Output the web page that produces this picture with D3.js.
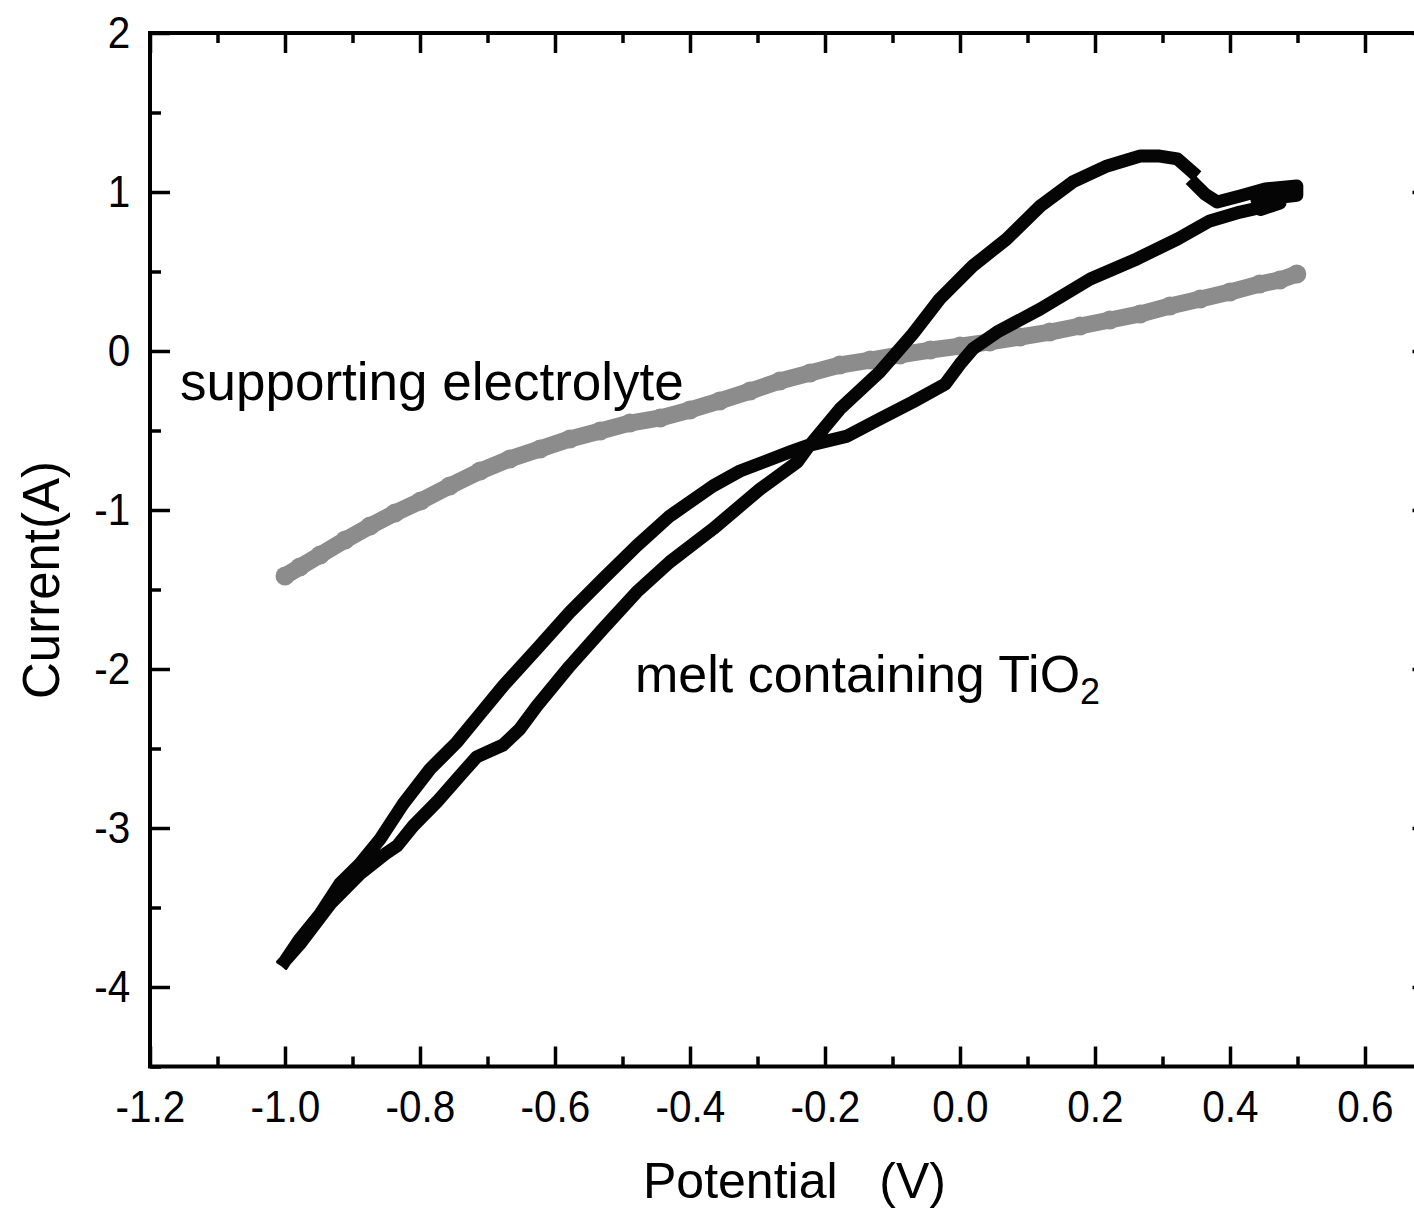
<!DOCTYPE html>
<html>
<head>
<meta charset="utf-8">
<script src="https://cdn.jsdelivr.net/npm/d3@7"></script>
<style>
  html, body { margin: 0; padding: 0; background: #fff; overflow: hidden; }
  svg text { font-family: "Liberation Sans", Arial, sans-serif; fill: #000; }
</style>
</head>
<body>
<svg id="chart" width="1414" height="1210"></svg>
<script>
// supporting electrolyte (grey markers)
let electrolytePotential = [-1.000, -0.978, -0.948, -0.911, -0.874, -0.837, -0.799, -0.756, -0.711, -0.667,
  -0.622, -0.578, -0.533, -0.489, -0.444, -0.400, -0.356, -0.311, -0.267, -0.222,
  -0.178, -0.133, -0.089, -0.044, 0.000, 0.044, 0.089, 0.133, 0.178, 0.222,
  0.267, 0.311, 0.356, 0.400, 0.444, 0.474, 0.499]
let electrolyteCurrent = [-1.415, -1.358, -1.283, -1.189, -1.101, -1.019, -0.943, -0.849, -0.755, -0.679,
  -0.616, -0.553, -0.503, -0.453, -0.421, -0.371, -0.314, -0.252, -0.189, -0.138,
  -0.088, -0.057, -0.025, 0.006, 0.031, 0.057, 0.088, 0.119, 0.157, 0.195,
  0.233, 0.283, 0.327, 0.371, 0.421, 0.447, 0.484]

// melt containing TiO2 (black), null = gap in the trace
let meltPotential = [-1.000, -0.978, -0.933, -0.889, -0.852, -0.834, -0.810, -0.775, -0.736, -0.716,
  -0.677, -0.652, -0.627, -0.578, -0.529, -0.479, -0.430, -0.366, -0.296, -0.241,
  -0.227, -0.178, -0.119, -0.070, -0.030, 0.019, 0.069, 0.119, 0.167, 0.218,
  0.267, 0.296, 0.322, 0.344, null,
  0.348, 0.363, 0.381, 0.415, 0.452, 0.499, 0.499, 0.440, 0.445, 0.474,
  0.415, 0.370, 0.322, 0.262, 0.193, 0.119, 0.055, 0.019, 0.000,
  -0.022, -0.070, -0.119, -0.167, -0.227, -0.252, -0.326, -0.366, -0.430, -0.479,
  -0.529, -0.578, -0.627, -0.677, -0.711, -0.745, -0.785, -0.825, -0.859, -0.889,
  -0.919, -0.948, -0.978, -1.000]
let meltCurrent = [-3.836, -3.730, -3.478, -3.289, -3.164, -3.113, -2.987, -2.836, -2.648, -2.553,
  -2.478, -2.377, -2.233, -1.981, -1.748, -1.516, -1.327, -1.119, -0.868, -0.698,
  -0.616, -0.365, -0.132, 0.107, 0.327, 0.535, 0.704, 0.912, 1.063, 1.164,
  1.226, 1.226, 1.208, 1.126, null,
  1.050, 0.987, 0.937, 0.975, 1.019, 1.038, 0.980, 0.950, 0.890, 0.930,
  0.874, 0.818, 0.704, 0.579, 0.453, 0.264, 0.119, 0.013, -0.082,
  -0.208, -0.321, -0.428, -0.535, -0.597, -0.635, -0.755, -0.849, -1.038, -1.226,
  -1.434, -1.642, -1.874, -2.107, -2.283, -2.459, -2.629, -2.849, -3.069, -3.226,
  -3.352, -3.541, -3.698, -3.836]

let xMajor = [-1.2, -1.0, -0.8, -0.6, -0.4, -0.2, 0.0, 0.2, 0.4, 0.6]
let xMinor = [-1.1, -0.9, -0.7, -0.5, -0.3, -0.1, 0.1, 0.3, 0.5]
let yMajor = [-4, -3, -2, -1, 0, 1, 2]
let yMinor = [-4.5, -3.5, -2.5, -1.5, -0.5, 0.5, 1.5]

let svg = d3.select('#chart')
let plotLeft = 150, plotRight = 1432.5, plotTop = 33, plotBottom = 1066.5

let x = d3.scaleLinear().domain([-1.2, 0.7]).range([plotLeft, plotRight])
let y = d3.scaleLinear().domain([-4.5, 2]).range([plotBottom, plotTop])

let electrolyte = electrolytePotential.map((p, i) => [p, electrolyteCurrent[i]])
let melt = meltPotential.map((p, i) => [p, meltCurrent[i]])

let line = d3.line().defined(d => d[0] != null && d[1] != null)
  .x(d => x(d[0])).y(d => y(d[1]))

// grey trace: thick line under round markers
svg.append('path').datum(electrolyte)
  .attr('d', line)
  .attr('fill', 'none')
  .attr('stroke', '#8c8c8c')
  .attr('stroke-width', 17)
  .attr('stroke-linecap', 'round')
  .attr('stroke-linejoin', 'round')
svg.append('g').selectAll('circle').data(electrolyte).join('circle')
  .attr('cx', d => x(d[0])).attr('cy', d => y(d[1]))
  .attr('r', 9.5).attr('fill', '#8c8c8c')

svg.append('path').datum(melt)
  .attr('d', line)
  .attr('fill', 'none')
  .attr('stroke', '#050505')
  .attr('stroke-width', 13)
  .attr('stroke-linecap', 'square')
  .attr('stroke-linejoin', 'round')

// axes, ticks pointing inward
let fmtX = d => d.toFixed(1)
let fmtY = d => String(d)
let styleAxis = (g) => {
  g.select('.domain').remove()
  g.selectAll('line').attr('stroke', '#000').attr('stroke-width', 3.5)
  g.selectAll('text').attr('font-size', 45).attr('transform', 'scale(0.9,1)')
}

svg.append('g').attr('transform', `translate(0,${plotBottom})`)
  .call(d3.axisBottom(x).tickValues(xMajor).tickFormat(fmtX).tickSize(-20).tickPadding(24))
  .call(styleAxis)
svg.append('g').attr('transform', `translate(0,${plotBottom})`)
  .call(d3.axisBottom(x).tickValues(xMinor).tickFormat('').tickSize(-10))
  .call(styleAxis)
svg.append('g').attr('transform', `translate(0,${plotTop})`)
  .call(d3.axisTop(x).tickValues(xMajor).tickFormat('').tickSize(-20))
  .call(styleAxis)
svg.append('g').attr('transform', `translate(0,${plotTop})`)
  .call(d3.axisTop(x).tickValues(xMinor).tickFormat('').tickSize(-10))
  .call(styleAxis)

svg.append('g').attr('transform', `translate(${plotLeft},0)`)
  .call(d3.axisLeft(y).tickValues(yMajor).tickFormat(fmtY).tickSize(-20).tickPadding(22))
  .call(styleAxis)
svg.append('g').attr('transform', `translate(${plotLeft},0)`)
  .call(d3.axisLeft(y).tickValues(yMinor).tickFormat('').tickSize(-11))
  .call(styleAxis)
svg.append('g').attr('transform', `translate(${plotRight},0)`)
  .call(d3.axisRight(y).tickValues(yMajor).tickFormat('').tickSize(-20))
  .call(styleAxis)
svg.append('g').attr('transform', `translate(${plotRight},0)`)
  .call(d3.axisRight(y).tickValues(yMinor).tickFormat('').tickSize(-11))
  .call(styleAxis)

// frame
svg.append('rect')
  .attr('x', plotLeft).attr('y', plotTop)
  .attr('width', plotRight - plotLeft).attr('height', plotBottom - plotTop)
  .attr('fill', 'none').attr('stroke', '#000').attr('stroke-width', 4)

// axis titles
svg.append('text')
  .attr('x', 643).attr('y', 1198)
  .attr('font-size', 50)
  .style('white-space', 'pre')
  .text('Potential   (V)')

svg.append('text')
  .attr('transform', 'translate(59,580) rotate(-90)')
  .attr('text-anchor', 'middle')
  .attr('font-size', 51)
  .text('Current(A)')

// curve annotations
svg.append('text')
  .attr('x', 180).attr('y', 400)
  .attr('font-size', 53)
  .text('supporting electrolyte')

let meltLabel = svg.append('text')
  .attr('x', 635).attr('y', 692)
  .attr('font-size', 52)
meltLabel.append('tspan').text('melt containing TiO')
meltLabel.append('tspan').attr('font-size', 36).attr('dy', 12).text('2')
</script>
</body>
</html>
